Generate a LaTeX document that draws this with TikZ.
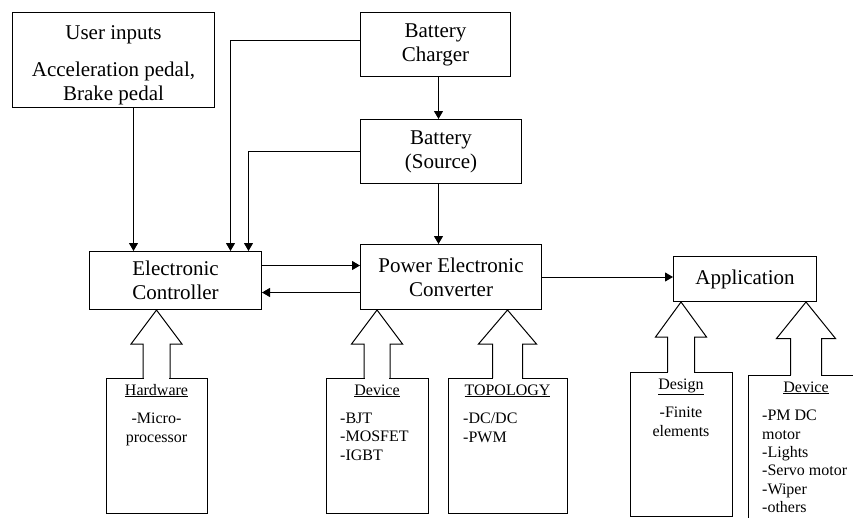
\documentclass[tikz,border=0pt]{standalone}
\usepackage{fontspec}
\setmainfont{Liberation Serif}
\usetikzlibrary{arrows.meta,positioning,calc}
\tikzset{
  block/.style={
    draw, line width=1pt, anchor=north west, align=center, inner sep=0pt,
    font=\fontsize{21}{24}\selectfont
  },
  partbox/.style={draw, line width=1pt, anchor=north west, inner sep=0pt, outer sep=0pt},
  heading/.style={font=\fontsize{16}{18.3}\selectfont, inner sep=0pt},
  items/.style={font=\fontsize{16}{18.3}\selectfont, inner sep=0pt, align=left},
  flow/.style={-{Triangle[length=8pt, width=9pt]}, line width=1pt},
  hollow/.style={line width=1pt}
}
\newcommand{\blockarrow}[4]{%
  \coordinate (#1tip) at (#1.north |- #2.south);
  \coordinate (#1neck) at ($(#1.north)!0.5!(#1tip)$);
  \fill[white] ([xshift=-#3+0.6pt, yshift=-0.8pt]#1.north) rectangle ([xshift=#3-0.6pt, yshift=0.8pt]#1.north);
  \draw[hollow] ([xshift=-#3]#1.north) -- ([xshift=-#3]#1neck) -- ([xshift=-#4]#1neck)
    -- (#1tip) -- ([xshift=#4]#1neck) -- ([xshift=#3]#1neck) -- ([xshift=#3]#1.north);%
}

\begin{document}
\begin{tikzpicture}[x=1pt, y=-1pt]
    \clip (0,0) rectangle (853,517);
    \node[block, minimum width=202pt, minimum height=95pt] (userin) at (12,12)
         {\rule{0pt}{25pt}User inputs\\[13pt]Acceleration pedal,\\Brake pedal};
    \node[block, minimum width=150pt, minimum height=64pt] (charger) at (360,12) {Battery\\Charger};
    \node[block, minimum width=161pt, minimum height=64pt] (battery) at (360,119) {Battery\\(Source)};
    \node[block, minimum width=172pt, minimum height=58pt] (ctrl) at (89,251) {Electronic\\Controller};
    \node[block, minimum width=181pt, minimum height=65pt] (pec) at (360,244) {Power Electronic\\Converter};
    \node[block, minimum width=143pt, minimum height=45pt] (app) at (673,256) {Application};

    \node[partbox, minimum width=101pt, minimum height=135pt] (hw) at (106,378) {};
    \node[partbox, minimum width=102pt, minimum height=135pt] (dev) at (326,378) {};
    \node[partbox, minimum width=119pt, minimum height=135pt] (topo) at (448,378) {};
    \node[partbox, minimum width=102pt, minimum height=144pt] (design) at (630,372) {};
    \node[partbox, minimum width=116pt, minimum height=160pt] (appdev) at (748,375) {};

    \node[heading, below=17pt of hw.north, anchor=base] (hwhead) {\underline{Hardware}};
    \node[heading, below=17pt of dev.north, anchor=base] (devhead) {\underline{Device}};
    \node[heading, below=17pt of topo.north, anchor=base] (topohead) {\underline{TOPOLOGY}};
    \node[heading, below=17pt of design.north, anchor=base] (designhead) {\underline{Design}};
    \node[heading, below=17pt of appdev.north, anchor=base] (appdevhead) {\underline{Device}};

    \node[items, align=center, below=35pt of hw.north] (hwlist) {-Micro-\\processor};
    \node[items, below right=35pt and 14pt of dev.north west] (devlist) {-BJT\\-MOSFET\\-IGBT};
    \node[items, below right=35pt and 15pt of topo.north west] (topolist) {-DC/DC\\-PWM};
    \node[items, align=center, below=35pt of design.north] (designlist) {-Finite\\elements};
    \node[items, below right=35pt and 14pt of appdev.north west] (appdevlist)
         {-PM DC\\motor\\-Lights\\-Servo motor\\-Wiper\\-others};

    \coordinate (uin) at ([xshift=20pt]userin.south);
    \draw[flow] (uin) -- (uin |- ctrl.north);
    \draw[flow] ([yshift=4pt]charger.west) -| ([xshift=55pt]ctrl.north);
    \draw[flow] (battery.west) -| ([xshift=73pt]ctrl.north);
    \coordinate (chg) at ([xshift=3pt]charger.south);
    \draw[flow] (chg) -- (chg |- battery.north);
    \coordinate (bat) at ([xshift=-2.5pt]battery.south);
    \draw[flow] (bat) -- (bat |- pec.north);
    \coordinate (tocon) at ([yshift=15pt]ctrl.east);
    \draw[flow] (tocon) -- (tocon -| pec.west);
    \coordinate (back) at ([yshift=-15.5pt]pec.west);
    \draw[flow] (back) -- (back -| ctrl.east);
    \draw[flow] (pec.east) -- (pec.east -| app.west);

    \blockarrow{hw}{ctrl}{13.5pt}{25.5pt}
    \blockarrow{dev}{pec}{13pt}{25.5pt}
    \blockarrow{topo}{pec}{15pt}{29pt}
    \blockarrow{design}{app}{13.5pt}{25.5pt}
    \blockarrow{appdev}{app}{15.5pt}{29.5pt}
\end{tikzpicture}
\end{document}
